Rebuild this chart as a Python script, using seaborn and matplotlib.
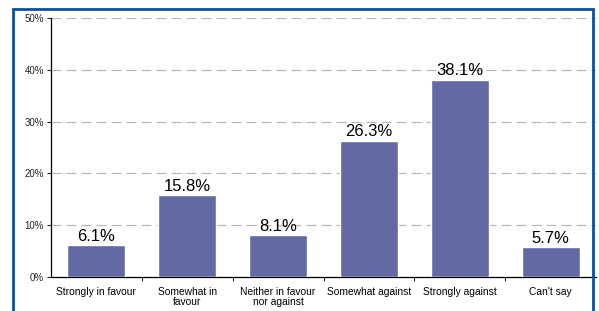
import matplotlib
matplotlib.use("Agg")
import matplotlib.pyplot as plt
import seaborn as sns
import pandas as pd
from matplotlib.patches import Rectangle
from matplotlib.ticker import FixedLocator

categories = ["Strongly in favour", "Somewhat in\nfavour", "Neither in favour\nnor against",
              "Somewhat against", "Strongly against", "Can't say"]
values = [6.1, 15.8, 8.1, 26.3, 38.1, 5.7]
yticks = [0, 10, 20, 30, 40, 50]

sns.set_theme(style="white")
plt.rcParams['font.family'] = ['Liberation Sans', 'DejaVu Sans']

fig = plt.figure(figsize=(5.99, 3.11), dpi=100)
ax = fig.add_axes([51/599, (311-277)/311, (596-51)/599, (277-18)/311])

df = pd.DataFrame({"cat": categories, "val": values})
sns.barplot(data=df, x="cat", y="val", color="#636AA3", saturation=1, width=0.64, ax=ax, zorder=3)

ax.set_ylim(0, 50)
ax.set_xlim(-0.5, 5.5)
ax.set_yticks(yticks)
ax.set_yticklabels([f"{t}%" for t in yticks], fontsize=7)
ax.yaxis.grid(True, color="#b8b8b8", linestyle=(0, (8, 4)), linewidth=0.9, zorder=0)
ax.set_xlabel("")
ax.set_ylabel("")
ax.tick_params(axis="x", which="major", length=0, labelsize=7.4, pad=7, colors="black")
ax.xaxis.set_minor_locator(FixedLocator([0.5, 1.5, 2.5, 3.5, 4.5]))
ax.tick_params(axis="x", which="minor", length=3, width=0.8, direction="out", bottom=True)
ax.tick_params(axis="y", length=3, width=0.8, direction="out", left=True, pad=2)
for lab in ax.get_xticklabels():
    lab.set_linespacing(1.0)

for s in ["top", "right"]:
    ax.spines[s].set_visible(False)
for s in ["left", "bottom"]:
    ax.spines[s].set_color("black")
    ax.spines[s].set_linewidth(0.9)

for i, v in enumerate(values):
    ax.text(i, v + 0.25, f"{v}%", ha="center", va="bottom", fontsize=12, color="black", zorder=4)

fig.patches.append(Rectangle((13/599, -0.1), (593-13)/599, 1.1 - 9/311, transform=fig.transFigure,
                             fill=False, edgecolor="#0A50A0", linewidth=2, zorder=10))

fig.savefig("out.png", dpi=100)
